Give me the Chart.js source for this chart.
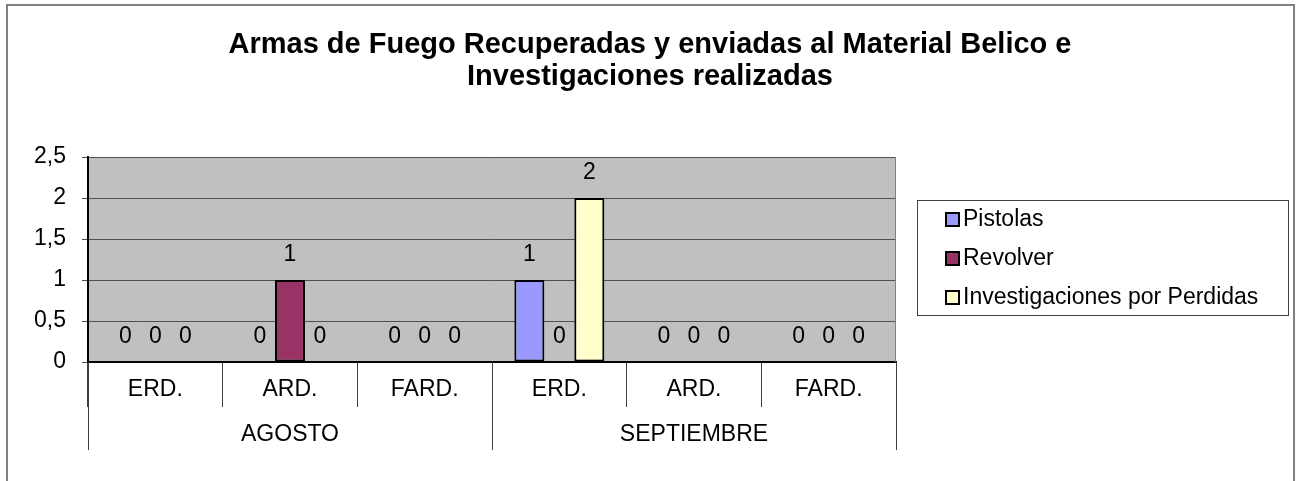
<!DOCTYPE html>
<html>
<head>
<meta charset="utf-8">
<script src="https://cdn.jsdelivr.net/npm/chart.js"></script>
<style>
  html, body { margin: 0; padding: 0; background: #fff; }
</style>
</head>
<body>
<canvas id="myChart" width="1300" height="481"></canvas>
<script>
var titleLines = ["Armas de Fuego Recuperadas y enviadas al Material Belico e", "Investigaciones realizadas"];
var months = ["AGOSTO", "SEPTIEMBRE"];
var subCats = ["ERD.", "ARD.", "FARD.", "ERD.", "ARD.", "FARD."];
var seriesNames = ["Pistolas", "Revolver", "Investigaciones por Perdidas"];
var pistolas = [0, 0, 0, 1, 0, 0];
var revolver = [0, 1, 0, 0, 0, 0];
var investigaciones = [0, 0, 0, 2, 0, 0];
var barColors = ["#9999FF", "#993366", "#FFFFCC"];

var FONT = '"Liberation Sans", Arial, sans-serif';

// background, frame, title, legend, month groups and value labels
var extras = {
  id: "extras",
  beforeDraw: function (chart) {
    var ctx = chart.ctx, a = chart.chartArea;
    ctx.save();
    ctx.fillStyle = "#fff";
    ctx.fillRect(0, 0, chart.width, chart.height);
    ctx.strokeStyle = "#808080";
    ctx.lineWidth = 2;
    ctx.strokeRect(7, 5, 1287, 520);
    ctx.fillStyle = "#C0C0C0";
    ctx.fillRect(a.left, a.top, a.right - a.left, a.bottom - a.top);
    ctx.restore();
  },
  afterDatasetsDraw: function (chart) {
    var ctx = chart.ctx;
    ctx.save();
    ctx.font = "23px " + FONT;
    ctx.fillStyle = "#000";
    ctx.textAlign = "center";
    ctx.textBaseline = "middle";
    chart.data.datasets.forEach(function (ds, i) {
      chart.getDatasetMeta(i).data.forEach(function (bar, j) {
        ctx.fillText(String(ds.data[j]), bar.x, bar.y - 25);
      });
    });
    ctx.restore();
  },
  afterDraw: function (chart) {
    var ctx = chart.ctx, a = chart.chartArea, x = chart.scales.x;
    ctx.save();
    // right edge of plot
    ctx.strokeStyle = "#808080";
    ctx.lineWidth = 1;
    ctx.beginPath();
    ctx.moveTo(a.right - 0.5, a.top);
    ctx.lineTo(a.right - 0.5, a.bottom);
    ctx.stroke();

    // month groups
    ctx.strokeStyle = "#404040";
    ctx.font = "23px " + FONT;
    ctx.fillStyle = "#000";
    ctx.textAlign = "center";
    ctx.textBaseline = "middle";
    months.forEach(function (m, i) {
      [3 * i - 0.5, 3 * i + 2.5].forEach(function (v) {
        var px = Math.round(x.getPixelForValue(v)) + 0.5;
        ctx.beginPath();
        ctx.moveTo(px, a.bottom);
        ctx.lineTo(px, 450);
        ctx.stroke();
      });
      ctx.fillText(m, x.getPixelForValue(3 * i + 1), 435);
    });

    // title
    ctx.font = "bold 29px " + FONT;
    titleLines.forEach(function (t, i) {
      ctx.fillText(t, 650, 45 + i * 32);
    });

    // legend
    ctx.strokeStyle = "#404040";
    ctx.strokeRect(917.5, 200.5, 371, 115);
    ctx.font = "23px " + FONT;
    ctx.textAlign = "left";
    chart.data.datasets.forEach(function (ds, i) {
      var y = 219 + i * 39;
      ctx.fillStyle = ds.backgroundColor;
      ctx.fillRect(946, y - 6, 13, 13);
      ctx.strokeStyle = "#000";
      ctx.lineWidth = 2;
      ctx.strokeRect(946, y - 6, 13, 13);
      ctx.fillStyle = "#000";
      ctx.fillText(ds.label, 963, y + 1);
    });
    ctx.restore();
  }
};

function makeSet(i, data) {
  return {
    label: seriesNames[i],
    data: data,
    backgroundColor: barColors[i],
    borderColor: "#000",
    borderWidth: 2,
    borderSkipped: false,
    categoryPercentage: 0.668,
    barPercentage: 1
  };
}

new Chart("myChart", {
  type: "bar",
  data: {
    labels: subCats,
    datasets: [makeSet(0, pistolas), makeSet(1, revolver), makeSet(2, investigaciones)]
  },
  options: {
    responsive: false,
    animation: false,
    devicePixelRatio: 1,
    layout: { padding: { left: 0, top: 157, right: 404, bottom: 31 } },
    plugins: {
      legend: { display: false },
      title: { display: false },
      tooltip: { enabled: false }
    },
    scales: {
      x: {
        grid: { offset: true, drawOnChartArea: false, tickLength: 45, color: "#404040" },
        border: { color: "#000", width: 2 },
        ticks: { font: { family: FONT, size: 23 }, color: "#000", padding: -31, maxRotation: 0, autoSkip: false },
        afterFit: function (s) { s.height = 88; }
      },
      y: {
        min: 0,
        max: 2.5,
        ticks: {
          stepSize: 0.5,
          font: { family: FONT, size: 23 },
          color: "#000",
          padding: 16,
          callback: function (v) { return String(v).replace(".", ","); }
        },
        grid: { color: "#505050", tickLength: 6 },
        border: { color: "#000", width: 2 },
        afterFit: function (s) { s.width = 88; }
      }
    }
  },
  plugins: [extras]
});
</script>
</body>
</html>
